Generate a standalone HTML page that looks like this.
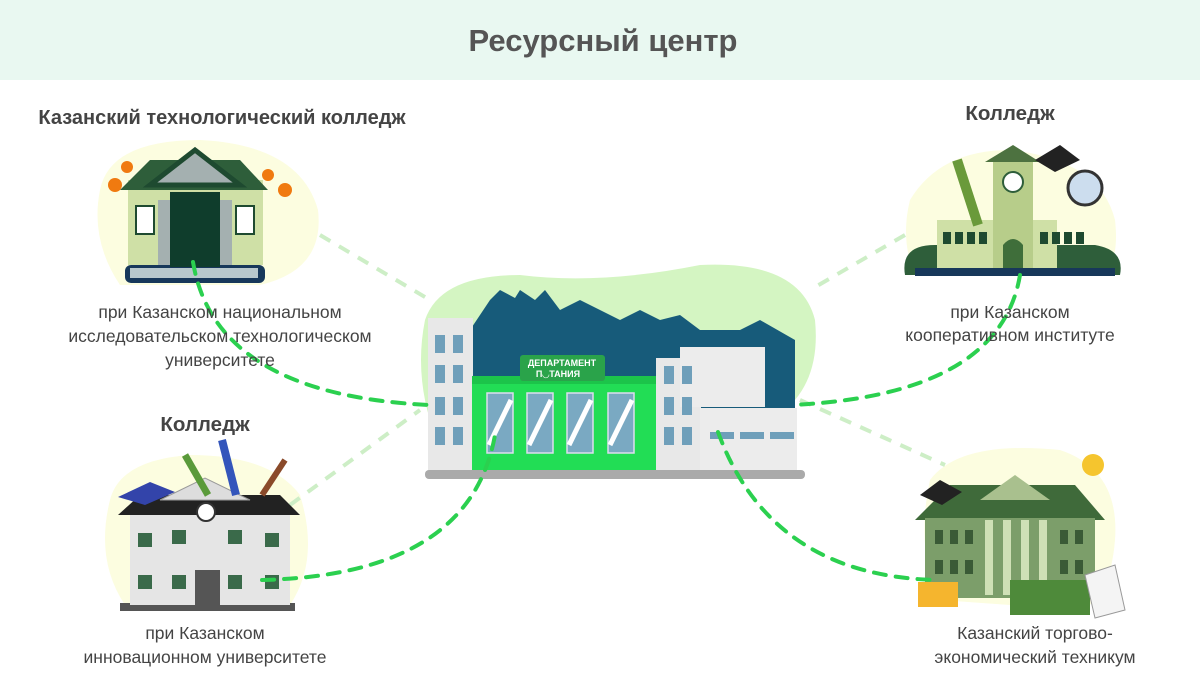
<!DOCTYPE html>
<html><head><meta charset="utf-8"><style>
body{margin:0;width:1200px;height:675px;background:#fff;overflow:hidden;font-family:"Liberation Sans","DejaVu Sans",sans-serif}
</style></head><body>
<svg width="1200" height="675" viewBox="0 0 1200 675" xmlns="http://www.w3.org/2000/svg" font-family="Liberation Sans, DejaVu Sans, sans-serif">
<rect x="0" y="0" width="1200" height="80" fill="#e9f8f1"/>
<text x="603" y="51" font-size="31" font-weight="bold" fill="#555" text-anchor="middle">Ресурсный центр</text>

<path d="M100,190 Q110,140 200,140 Q300,145 318,210 Q325,270 260,285 L120,285 Q90,240 100,190Z" fill="#fcfde0"/>
<path d="M910,200 Q940,150 1010,150 Q1100,160 1115,220 Q1120,265 1100,275 L915,275 Q900,240 910,200Z" fill="#fcfde0"/>
<path d="M110,500 Q120,460 190,455 Q270,455 300,495 Q320,560 290,605 L125,605 Q95,560 110,500Z" fill="#fcfde0"/>
<path d="M930,480 Q960,440 1060,450 Q1120,470 1115,540 Q1110,600 1080,610 L940,600 Q915,550 930,480Z" fill="#fcfde0"/>
<path d="M425,320 Q440,275 520,275 Q600,285 700,265 Q800,260 815,320 Q820,370 795,400 L430,420 Q415,370 425,320Z" fill="#d4f5c2"/>

<g stroke="#cdeec6" stroke-width="4" stroke-dasharray="12,10" fill="none">
<path d="M320,235 L430,300"/>
<path d="M905,235 L810,290"/>
<path d="M290,505 L420,410"/>
<path d="M800,400 L945,465"/>
</g>

<path d="M470,330 L490,300 L500,290 L515,298 L520,290 L535,300 L545,290 L560,310 L580,300 L600,310 L620,320 L640,310 L660,320 L680,315 L700,330 L740,330 L760,320 L795,340 L795,410 L470,410Z" fill="#175b7a"/>
<rect x="428" y="318" width="45" height="155" fill="#e8e8e8"/>
<g fill="#6f9fba"><rect x="435" y="335" width="10" height="18"/><rect x="453" y="335" width="10" height="18"/><rect x="435" y="365" width="10" height="18"/><rect x="453" y="365" width="10" height="18"/><rect x="435" y="397" width="10" height="18"/><rect x="453" y="397" width="10" height="18"/><rect x="435" y="427" width="10" height="18"/><rect x="453" y="427" width="10" height="18"/></g>
<rect x="472" y="378" width="185" height="95" fill="#22dd55"/>
<rect x="472" y="376" width="185" height="8" fill="#1cc44a"/>
<g fill="#7aa9c2" stroke="#dde" stroke-width="1.5"><rect x="487" y="393" width="26" height="60"/><rect x="527" y="393" width="26" height="60"/><rect x="567" y="393" width="26" height="60"/><rect x="608" y="393" width="26" height="60"/></g>
<g stroke="#fff" stroke-width="5"><path d="M489,445 L511,400"/><path d="M529,445 L551,400"/><path d="M569,445 L591,400"/><path d="M610,445 L632,400"/></g>
<rect x="520" y="355" width="85" height="26" rx="3" fill="#2aa34a"/>
<text x="562" y="366" font-size="9" font-weight="bold" fill="#fff" text-anchor="middle">ДЕПАРТАМЕНТ</text>
<text x="558" y="377" font-size="9" font-weight="bold" fill="#fff" text-anchor="middle">П◡ТАНИЯ</text>
<rect x="656" y="358" width="45" height="115" fill="#e8e8e8"/>
<rect x="680" y="347" width="85" height="60" fill="#ececec"/>
<g fill="#6f9fba"><rect x="664" y="366" width="10" height="18"/><rect x="682" y="366" width="10" height="18"/><rect x="664" y="397" width="10" height="18"/><rect x="682" y="397" width="10" height="18"/><rect x="664" y="427" width="10" height="18"/><rect x="682" y="427" width="10" height="18"/></g>
<rect x="700" y="408" width="97" height="65" fill="#ececec"/>
<g fill="#6f9fba"><rect x="710" y="432" width="24" height="7"/><rect x="740" y="432" width="24" height="7"/><rect x="770" y="432" width="24" height="7"/></g>
<rect x="425" y="470" width="380" height="9" rx="4" fill="#aaa"/>

<rect x="125" y="265" width="140" height="18" rx="6" fill="#17385a"/>
<rect x="130" y="268" width="128" height="10" fill="#b8c8cc"/>
<rect x="128" y="180" width="135" height="85" fill="#cfe0a6"/>
<path d="M120,190 L150,160 L240,160 L268,190Z" fill="#2e5e3a"/>
<path d="M150,185 L195,150 L240,185Z" fill="#a4b0b0" stroke="#1e4a30" stroke-width="5"/>
<rect x="170" y="192" width="50" height="75" fill="#0f3d2c"/>
<rect x="158" y="200" width="12" height="65" fill="#a4b0b0"/><rect x="220" y="200" width="12" height="65" fill="#a4b0b0"/>
<rect x="136" y="206" width="18" height="28" fill="#fff" stroke="#1e4a30" stroke-width="2"/><rect x="236" y="206" width="18" height="28" fill="#fff" stroke="#1e4a30" stroke-width="2"/>
<circle cx="115" cy="185" r="7" fill="#f07a10"/><circle cx="127" cy="167" r="6" fill="#f07a10"/><circle cx="268" cy="175" r="6" fill="#f07a10"/><circle cx="285" cy="190" r="7" fill="#f07a10"/>

<path d="M905,275 Q900,245 935,245 L1095,245 Q1125,250 1120,275Z" fill="#2e5e3a"/>
<rect x="937" y="220" width="120" height="52" fill="#cfe0a6"/>
<rect x="993" y="160" width="40" height="112" fill="#b7cd8a"/>
<path d="M985,162 L1013,145 L1040,162Z" fill="#4d7240"/>
<circle cx="1013" cy="182" r="10" fill="#fff" stroke="#2e5e3a" stroke-width="2"/>
<g fill="#1e4a30"><rect x="943" y="232" width="8" height="12"/><rect x="955" y="232" width="8" height="12"/><rect x="967" y="232" width="8" height="12"/><rect x="979" y="232" width="8" height="12"/><rect x="1040" y="232" width="8" height="12"/><rect x="1052" y="232" width="8" height="12"/><rect x="1064" y="232" width="8" height="12"/><rect x="1076" y="232" width="8" height="12"/></g>
<path d="M1003,272 L1003,245 Q1013,233 1023,245 L1023,272Z" fill="#3f6e3a"/>
<rect x="915" y="268" width="200" height="8" fill="#17385a"/>
<path d="M1035,160 L1060,145 L1080,160 L1055,172Z" fill="#222"/>
<circle cx="1085" cy="188" r="17" fill="#cde" stroke="#333" stroke-width="3"/>
<path d="M957,160 L978,225" stroke="#6a9a3a" stroke-width="10"/>

<rect x="120" y="603" width="175" height="8" fill="#555"/>
<rect x="130" y="515" width="160" height="90" fill="#e5e5e5"/>
<path d="M118,515 L140,495 L280,495 L300,515Z" fill="#222"/>
<path d="M160,500 L205,478 L250,500Z" fill="#ddd" stroke="#999"/>
<circle cx="206" cy="512" r="9" fill="#fff" stroke="#333" stroke-width="2"/>
<g fill="#3a6a4a"><rect x="138" y="533" width="14" height="14"/><rect x="172" y="530" width="14" height="14"/><rect x="228" y="530" width="14" height="14"/><rect x="265" y="533" width="14" height="14"/><rect x="138" y="575" width="14" height="14"/><rect x="172" y="575" width="14" height="14"/><rect x="228" y="575" width="14" height="14"/><rect x="265" y="575" width="14" height="14"/></g>
<rect x="195" y="570" width="25" height="35" fill="#555"/>
<path d="M118,497 L150,482 L175,492 L145,505Z" fill="#3344aa"/>
<path d="M185,455 L208,495" stroke="#5a9a3a" stroke-width="7"/><path d="M222,440 L236,495" stroke="#3355bb" stroke-width="8"/><path d="M285,460 L262,495" stroke="#8a4a2a" stroke-width="6"/>

<path d="M915,520 L950,485 L1075,485 L1105,520Z" fill="#3f6a3a"/>
<rect x="925" y="518" width="170" height="80" fill="#7c9e6a"/>
<path d="M980,500 L1015,475 L1050,500Z" fill="#a9c08e"/>
<g fill="#cfe0b6"><rect x="985" y="520" width="8" height="75"/><rect x="1003" y="520" width="8" height="75"/><rect x="1021" y="520" width="8" height="75"/><rect x="1039" y="520" width="8" height="75"/></g>
<g fill="#3a5a36"><rect x="935" y="530" width="8" height="14"/><rect x="950" y="530" width="8" height="14"/><rect x="965" y="530" width="8" height="14"/><rect x="1060" y="530" width="8" height="14"/><rect x="1075" y="530" width="8" height="14"/><rect x="935" y="560" width="8" height="14"/><rect x="950" y="560" width="8" height="14"/><rect x="965" y="560" width="8" height="14"/><rect x="1060" y="560" width="8" height="14"/><rect x="1075" y="560" width="8" height="14"/></g>
<rect x="1010" y="580" width="80" height="35" fill="#4e8a3a"/>
<path d="M1085,575 L1115,565 L1125,610 L1095,618Z" fill="#f4f4f4" stroke="#999"/>
<rect x="918" y="582" width="40" height="25" fill="#f5b52e"/>
<path d="M920,495 L940,480 L962,492 L942,505Z" fill="#222"/>
<circle cx="1093" cy="465" r="11" fill="#f5c52e"/>

<g stroke="#2bd04f" stroke-width="4" stroke-dasharray="12,10" fill="none" stroke-linecap="round">
<path d="M193,262 Q215,395 430,405"/>
<path d="M1020,275 Q1000,395 792,405"/>
<path d="M262,580 Q470,575 495,435"/>
<path d="M718,432 Q770,575 935,580"/>
</g>

<g fill="#444" font-size="17.5" text-anchor="middle">
<text x="222" y="124" font-size="20" font-weight="bold">Казанский технологический колледж</text>
<text x="220" y="318">при Казанском национальном</text>
<text x="220" y="342">исследовательском технологическом</text>
<text x="220" y="366">университете</text>
<text x="1010" y="120" font-size="20.5" font-weight="bold">Колледж</text>
<text x="1010" y="318">при Казанском</text>
<text x="1010" y="341">кооперативном институте</text>
<text x="205" y="431" font-size="20.5" font-weight="bold">Колледж</text>
<text x="205" y="639">при Казанском</text>
<text x="205" y="663">инновационном университете</text>
<text x="1035" y="639">Казанский торгово-</text>
<text x="1035" y="663">экономический техникум</text>
</g>
</svg>
</body></html>
